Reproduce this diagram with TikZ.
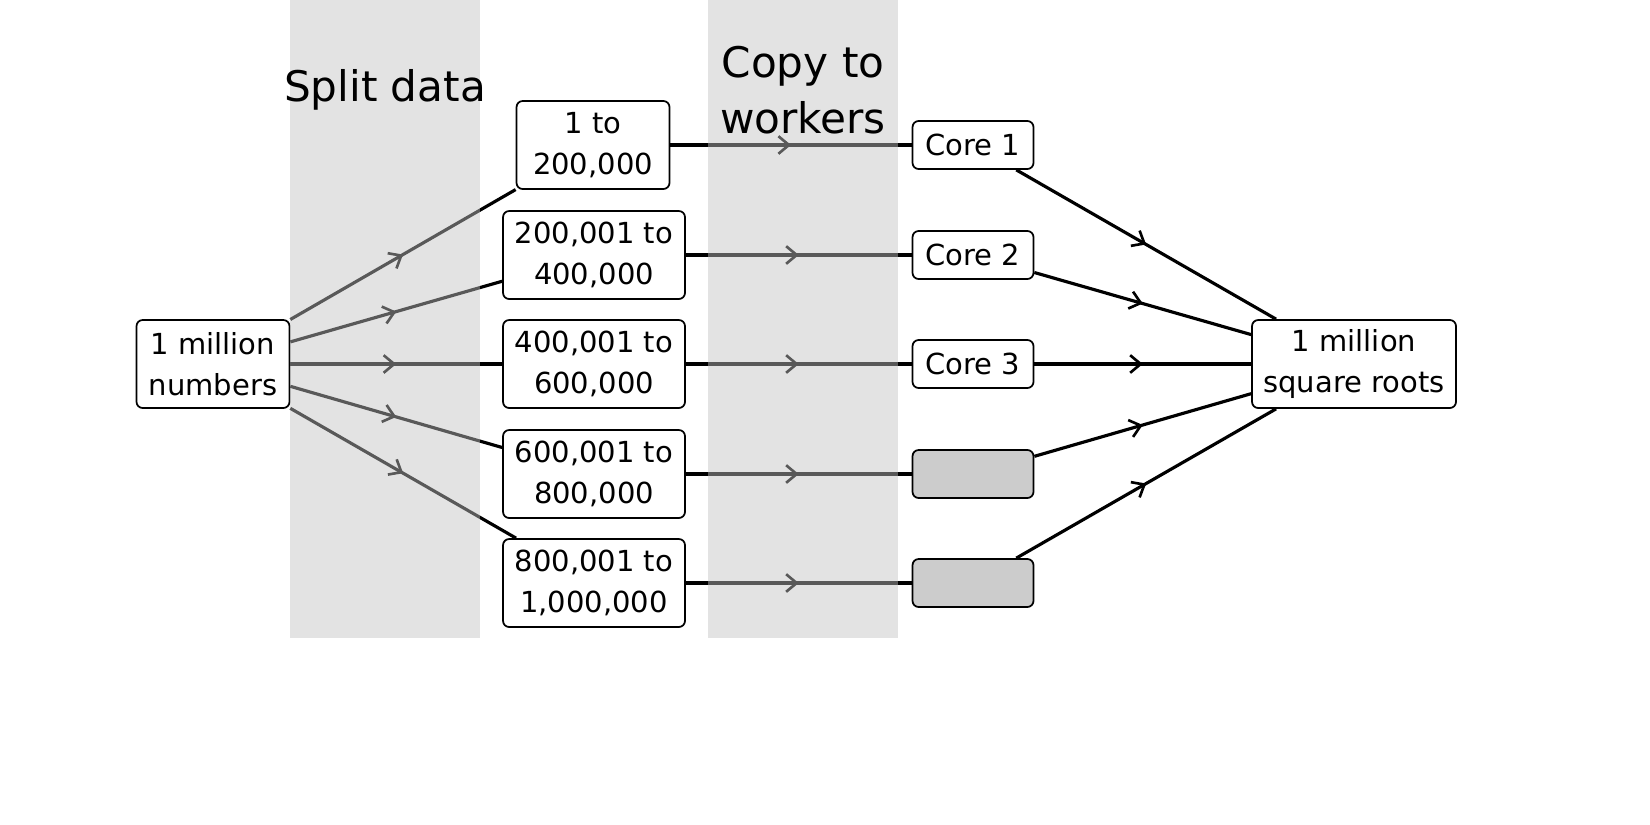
\documentclass[tikz,border=0pt]{standalone}
\usepackage{fontspec}
\setmainfont{DejaVu Sans}
\usetikzlibrary{arrows.meta,decorations.markings}

\tikzset{
    box/.style={draw, line width=1pt, rounded corners=3.5pt, fill=white,
        align=center, inner sep=0pt, font=\fontsize{16.5}{23}\selectfont},
    chunk/.style={box, minimum width=3.64cm, minimum height=1.76cm},
    core/.style={box, minimum width=2.42cm, minimum height=0.96cm},
    idle/.style={core, fill=black!20},
    flow/.style={line width=1.8pt, postaction={decorate},
        decoration={markings, mark=at position 0.5 with
            {\arrow{Straight Barb[length=6pt,width=10pt,line width=1.5pt]}}}},
    band/.style={fill=black!24, fill opacity=0.46, draw=none},
    title/.style={align=center, font=\fontsize{24}{32}\selectfont}
}

\begin{document}
\begin{tikzpicture}[x=0.02cm, y=-0.02cm]

    \useasboundingbox (0,0) rectangle (1650,825);

    % Input and output
    \node[box, minimum width=3.06cm, minimum height=1.76cm] (in) at (213,364) {1 million\\numbers};
    \node[box, minimum width=4.08cm, minimum height=1.76cm] (out) at (1354,364) {1 million\\square roots};

    % Chunks of data
    \node[chunk, minimum width=3.06cm] (s1) at (593,145) {1 to\\200,000};
    \node[chunk] (s2) at (594,255) {200,001 to\\400,000};
    \node[chunk] (s3) at (594,364) {400,001 to\\600,000};
    \node[chunk] (s4) at (594,474) {600,001 to\\800,000};
    \node[chunk] (s5) at (594,583) {800,001 to\\1,000,000};

    % Workers
    \node[core] (c1) at (973,145) {Core 1};
    \node[core] (c2) at (973,255) {Core 2};
    \node[core] (c3) at (973,364) {Core 3};
    \node[idle] (c4) at (973,474) {};
    \node[idle] (c5) at (973,583) {};

    % Connectors
    \foreach \i in {1,...,5} {
        \draw[flow] (in) -- (s\i);
        \draw[flow] (s\i) -- (c\i);
        \draw[flow] (c\i) -- (out);
    }

    % Shaded stages, over the lines
    \fill[band] (290,0) rectangle (480,638);
    \fill[band] (708,0) rectangle (898,638);

    % Stage titles
    \node[title] (split) at (385,90) {Split data};
    \node[title] (copy) at (803,90) {Copy to\\workers};

\end{tikzpicture}
\end{document}
